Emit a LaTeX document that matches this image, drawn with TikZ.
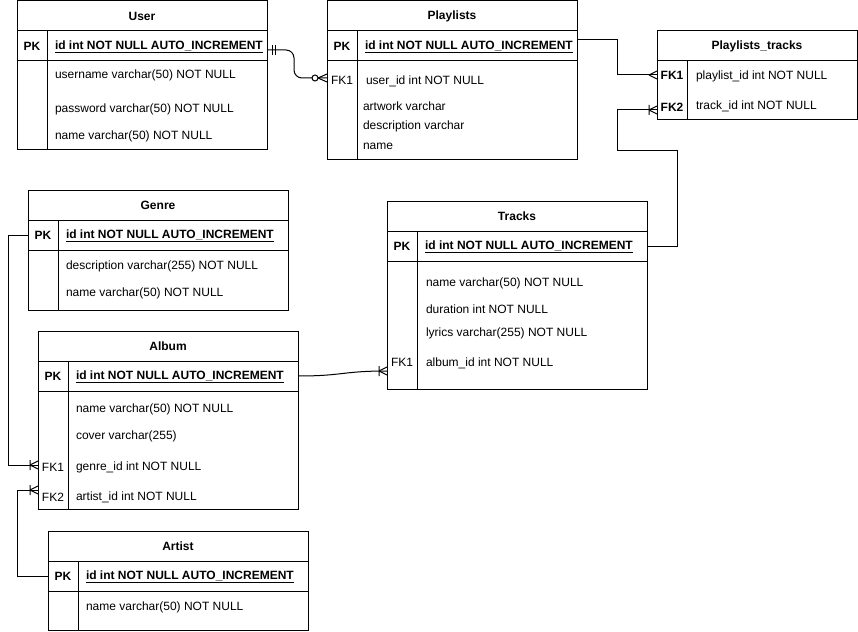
\documentclass[tikz,border=0pt]{standalone}
\usepackage{fontspec}
\setmainfont{Liberation Sans}
\usetikzlibrary{positioning}
\begin{document}
\begin{tikzpicture}
[x=1pt, y=-1pt, line width=1pt,%
  every node/.style={font=\fontsize{12pt}{14pt}\selectfont},%
  boldText/.style={font=\fontsize{12pt}{14pt}\selectfont\bfseries},%
  tabTitle/.style={draw, boldText, anchor=north west, minimum height=30pt, inner sep=0pt, outer sep=0pt},%
  tabBox/.style={draw, minimum height=30pt, inner sep=0pt, outer sep=0pt},%
  keyCell/.style={anchor=west, minimum width=30pt, inner sep=0pt, outer sep=0pt},%
  fieldText/.style={anchor=west, inner sep=0pt, outer sep=0pt, yshift=-1.5pt},%
  erLine/.style={-},%
  erMany/.pic={\draw (-8,0) -- (0,-4) (-8,0) -- (0,4);},%
  erOneMany/.pic={\draw (-8,0) -- (0,-4) (-8,0) -- (0,4) (-8,-5) -- (-8,5);},%
  erZeroMany/.pic={\draw (-9,0) -- (0,-4) (-9,0) -- (0,4); \draw[fill=white] (-12,0) circle (3pt);},%
  erMandOne/.pic={\draw (5,-5) -- (5,5) (8,-5) -- (8,5);}]
\useasboundingbox (0,0) rectangle (858,631);
%% tables with a primary key
\foreach \tab/\x/\y/\w/\h/\title in {
  user/17/1/250/89/User, playlists/327/1/250/99/Playlists,
  genre/28/190/260/60/Genre, album/38/331/260/118/Album,
  tracks/387/201/260/128/Tracks, artist/48/531/260/39/Artist}
{
  \node[tabTitle, minimum width=\w pt] (\tab) at (\x,\y) {\title};
  \node[tabBox, minimum width=\w pt, below=0pt of \tab] (\tab PK) {};
  \node[tabBox, minimum width=\w pt, minimum height=\h pt, below=0pt of \tab PK] (\tab Body) {};
  \draw ([xshift=30pt]\tab PK.north west) -- ([xshift=30pt]\tab Body.south west);
  \node[keyCell, boldText] (\tab PKkey) at (\tab PK.west) {PK};
  \node[fieldText, boldText, yshift=0.5pt, right=8pt of \tab PKkey] (\tab PKtext) {\underline{id int NOT NULL AUTO\_INCREMENT}};
}
%% link table
\node[tabTitle, minimum width=200pt] (ptracks) at (657,31) {Playlists\_tracks};
\node[tabBox, minimum width=200pt, minimum height=59pt, below=0pt of ptracks] (ptracksBody) {};
\draw ([xshift=30pt]ptracksBody.north west) -- ([xshift=30pt]ptracksBody.south west);
\node[keyCell, boldText] (ptracksFK1) at (657,75) {FK1};
\node[keyCell, boldText] (ptracksFK2) at (657,107) {FK2};
%% foreign key labels
\foreach \keyname/\x/\y/\lab in {
  playlistsFK1/327/80/FK1, albumFK1/38/467/FK1, albumFK2/38/497/FK2, tracksFK1/387/362/FK1}
{
  \node[keyCell] (\keyname) at (\x,\y) {\lab};
}
%% fields
\foreach \fieldname/\x/\y/\txt in {
  %% User
  user1/55/74/{username varchar(50) NOT NULL}, user2/55/108/{password varchar(50) NOT NULL},
  user3/55/135/{name varchar(50) NOT NULL},
  %% Playlists
  playlists1/366/80/{user\_id int NOT NULL}, playlists2/363/105/{artwork varchar},
  playlists3/363/125/{description varchar}, playlists4/363/145/{name},
  %% Playlists_tracks
  ptracks1/696/75/{playlist\_id int NOT NULL}, ptracks2/696/105/{track\_id int NOT NULL},
  %% Genre
  genre1/66/265/{description varchar(255) NOT NULL}, genre2/66/292/{name varchar(50) NOT NULL},
  %% Album
  album1/76/408/{name varchar(50) NOT NULL}, album2/76/435/{cover varchar(255)},
  album3/76/466/{genre\_id int NOT NULL}, album4/76/496/{artist\_id int NOT NULL},
  %% Tracks
  tracks1/426/282/{name varchar(50) NOT NULL}, tracks2/426/308/{duration int NOT NULL},
  tracks3/426/332/{lyrics varchar(255) NOT NULL}, tracks4/426/362/{album\_id int NOT NULL},
  %% Artist
  artist1/86/606/{name varchar(50) NOT NULL}}
{
  \node[fieldText] (\fieldname) at (\x,\y) {\txt};
}
%% relations
\draw[erLine, rounded corners=8pt] ([yshift=-4pt]userPK.east) -- ++(27,0) |- ([yshift=2pt]playlistsFK1.west);
\pic at ([yshift=-4pt]userPK.east) {erMandOne};
\pic at ([yshift=2pt]playlistsFK1.west) {erZeroMany};
\draw[erLine] ([yshift=6pt]playlistsPK.east) -- ++(40,0) |- (ptracksFK1.west);
\pic at (ptracksFK1.west) {erMany};
\draw[erLine] (tracksPK.east) -- ++(30,0) -- ++(0,-95) -- ++(-60,0) |- ([yshift=-3pt]ptracksFK2.west);
\pic at ([yshift=-3pt]ptracksFK2.west) {erOneMany};
\draw[erLine] (albumPK.east) .. controls +(45,0) and +(-45,0) .. ([yshift=-9pt]tracksFK1.west);
\pic at ([yshift=-9pt]tracksFK1.west) {erOneMany};
\draw[erLine] (genrePK.west) -- ++(-20,0) |- ([yshift=2pt]albumFK1.west);
\pic at ([yshift=2pt]albumFK1.west) {erOneMany};
\draw[erLine] (artistPK.west) -- ++(-31,0) |- ([yshift=7pt]albumFK2.west);
\pic at ([yshift=7pt]albumFK2.west) {erOneMany};
\end{tikzpicture}
\end{document}
